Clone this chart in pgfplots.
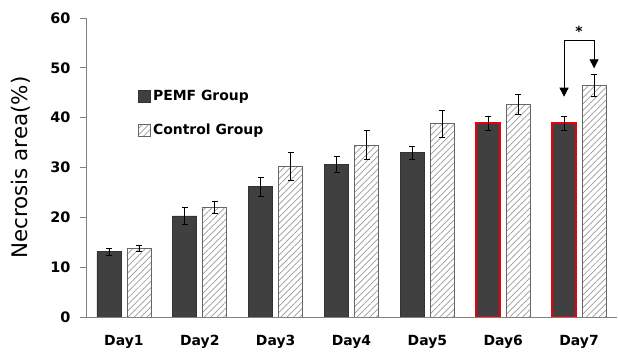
\documentclass[border=0pt]{standalone}
\usepackage{pgfplots}
\pgfplotsset{compat=1.18}
\usepackage{pgfplotstable}
\usepackage{fontspec}
\setmainfont{DejaVu Sans}
\usetikzlibrary{patterns.meta,arrows.meta}
\definecolor{darkbar}{HTML}{404040}
\definecolor{axgray}{HTML}{808080}
\definecolor{redb}{HTML}{E8000B}
\pgfplotstableread{
x y e
0 13.1 0.7
1 20.3 1.7
2 26.2 1.9
3 30.6 1.6
4 33.0 1.3
}\pemf
\pgfplotstableread{
x y e
5 38.9 1.4
6 38.9 1.4
}\pemfred
\pgfplotstableread{
x y e
0 13.8 0.65
1 22.0 1.15
2 30.2 2.85
3 34.5 2.9
4 38.8 2.7
5 42.7 2.0
6 46.5 2.2
}\control
\begin{document}
\begin{tikzpicture}
\begin{axis}[
  at={(0,0)}, anchor=south west,
  scale only axis, width=531bp, height=299bp,
  xmin=-0.5, xmax=6.5, ymin=0, ymax=60,
  ybar, bar width=24bp,
  axis x line=bottom, axis y line=left,
  axis line style={-, axgray, line width=0.8bp},
  ytick={0,10,...,60},
  xtick={0,...,6},
  xticklabels={Day1,Day2,Day3,Day4,Day5,Day6,Day7},
  x tick style={draw=none},
  y tick style={axgray, line width=0.8bp},
  tick align=outside, major tick length=6bp,
  /pgf/number format/assume math mode=true,
  yticklabel style={font=\bfseries\fontsize{14.5}{16}\selectfont, xshift=-6bp},
  xticklabel style={font=\bfseries\fontsize{14}{16}\selectfont, yshift=-9bp},
  ylabel={Necrosis area(\%)},
  every axis y label/.style={at={(axis description cs:0,0.5)}, xshift=-65bp, rotate=90, anchor=center, font=\fontsize{21.5}{24}\selectfont},
  legend style={at={(0.098,0.765)}, anchor=north west, draw=none, fill=none,
    font=\bfseries\fontsize{14}{16}\selectfont, row sep=18bp, inner sep=0pt},
  legend cell align=left,
  legend image code/.code={\draw[#1] (0bp,-6bp) rectangle (12bp,6bp);},
  error bars/y dir=both, error bars/y explicit,
  error bars/error bar style={black, line width=0.8bp},
  error bars/error mark options={rotate=90, mark size=3bp, black, line width=0.8bp},
]
\addplot[fill=darkbar, draw=black!80, line width=0.6bp, bar shift=-15bp]
  table[x=x, y=y, y error=e] {\pemf};
\addlegendentry{PEMF Group}
\addplot[draw=axgray!80!black, line width=0.8bp, bar shift=15bp,
  pattern={Lines[angle=45,distance=4.5bp,line width=0.7bp]}, pattern color=gray!80]
  table[x=x, y=y, y error=e] {\control};
\addlegendentry{Control Group}
\addplot[fill=darkbar, draw=redb, line width=2bp, bar shift=-15bp, forget plot]
  table[x=x, y=y, y error=e] {\pemfred};
\draw[black, line width=0.8bp, {Triangle[length=9bp,width=9bp]}-{Triangle[length=9bp,width=9bp]}]
  (axis cs:5.802,44.2) -- (axis cs:5.802,55.6) -- (axis cs:6.198,55.6) -- (axis cs:6.198,49.9);
\node[font=\bfseries\fontsize{14}{16}\selectfont] at (axis cs:6,57.4) {*};
\end{axis}
\pgfresetboundingbox
\path (-86bp,-39bp) rectangle (532bp,317bp);
\end{tikzpicture}
\end{document}
